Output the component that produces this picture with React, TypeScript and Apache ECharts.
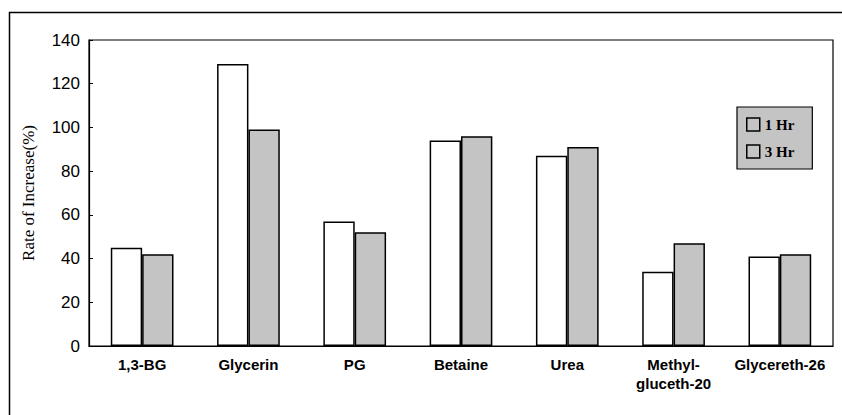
import React, { useEffect, useRef } from "react";
import * as echarts from "echarts";

const categories = ["1,3-BG", "Glycerin", "PG", "Betaine", "Urea", "Methyl-\ngluceth-20", "Glycereth-26"];
const hr1 = [45, 129, 57, 94, 87, 34, 41];
const hr3 = [42, 99, 52, 96, 91, 47, 42];
const yTicks = { min: 0, max: 140, interval: 20 };

const sans = "'Liberation Sans', Arial, sans-serif";
const serif = "'Liberation Serif', 'DejaVu Serif', serif";

export default function App() {
  const ref = useRef<HTMLDivElement>(null);
  useEffect(() => {
    document.body.style.margin = "0";
    const chart = echarts.init(ref.current!, null, { renderer: "svg" });
    chart.setOption({
      animation: false,
      backgroundColor: "#ffffff",
      graphic: [
        {
          type: "rect",
          shape: { x: 9.5, y: 12.5, width: 900, height: 500 },
          style: { fill: "none", stroke: "#000", lineWidth: 1.5 },
          silent: true,
        },
      ],
      grid: { left: 89, top: 40, right: 9, bottom: 69, show: true, borderColor: "#000", borderWidth: 1.2, backgroundColor: "transparent" },
      legend: {
        orient: "vertical",
        left: 737,
        top: 107,
        padding: [10, 18, 10, 9],
        itemGap: 12,
        itemWidth: 13,
        itemHeight: 13,
        backgroundColor: "#c4c4c4",
        borderColor: "#000",
        borderWidth: 1.2,
        borderRadius: 0,
        textStyle: { fontFamily: serif, fontSize: 15, fontWeight: "bold", color: "#000" },
        data: [
          { name: "1 Hr", icon: "rect", itemStyle: { color: "#c4c4c4", borderColor: "#000", borderWidth: 1.5 } },
          { name: "3 Hr", icon: "rect", itemStyle: { color: "#c4c4c4", borderColor: "#000", borderWidth: 1.5 } },
        ],
      },
      xAxis: {
        type: "category",
        data: categories,
        axisLine: { lineStyle: { color: "#000", width: 1.2 } },
        axisTick: { show: false },
        axisLabel: {
          color: "#000",
          fontFamily: sans,
          fontWeight: "bold",
          fontSize: 15,
          lineHeight: 19,
          margin: 9,
          interval: 0,
        },
      },
      yAxis: {
        type: "value",
        min: yTicks.min,
        max: yTicks.max,
        interval: yTicks.interval,
        name: "Rate of Increase(%)",
        nameLocation: "middle",
        nameGap: 52,
        nameTextStyle: { fontFamily: serif, fontSize: 17, color: "#000" },
        axisLine: { show: true, lineStyle: { color: "#000", width: 1.2 } },
        axisTick: { show: true, inside: true, length: 4, lineStyle: { color: "#000" } },
        splitLine: { show: false },
        axisLabel: { color: "#000", fontFamily: sans, fontSize: 17, margin: 9 },
      },
      series: [
        {
          name: "1 Hr",
          type: "bar",
          data: hr1,
          barGap: "0%",
          barCategoryGap: "41%",
          itemStyle: { color: "#ffffff", borderColor: "#000", borderWidth: 1.5 },
        },
        {
          name: "3 Hr",
          type: "bar",
          data: hr3,
          itemStyle: { color: "#c4c4c4", borderColor: "#000", borderWidth: 1.5 },
        },
      ],
    });
    return () => chart.dispose();
  }, []);
  return <div ref={ref} style={{ width: 842, height: 415 }} />;
}
